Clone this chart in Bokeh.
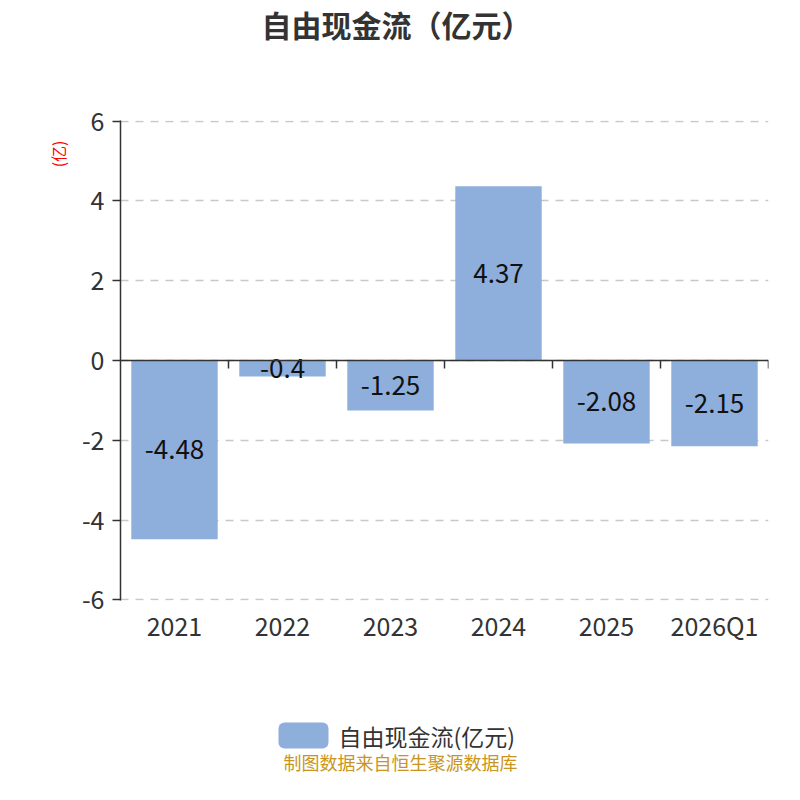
from bokeh.plotting import figure
from bokeh.layouts import column
from bokeh.models import ColumnDataSource, FixedTicker, Span, Range1d, Title
from bokeh.core.properties import value
from bokeh.embed import file_html
from bokeh.resources import INLINE

categories = ["2021", "2022", "2023", "2024", "2025", "2026Q1"]
values = [-4.48, -0.4, -1.25, 4.37, -2.08, -2.15]
value_labels = ["-4.48", "-0.4", "-1.25", "4.37", "-2.08", "-2.15"]
y_ticks = [-6, -4, -2, 0, 2, 4, 6]
y_tick_labels = ["-6", "-4", "-2", "0", "2", "4", "6"]
title_text = "自由现金流（亿元）"
series_name = "自由现金流(亿元)"
unit_text = "(亿)"
footer_text = "制图数据来自恒生聚源数据库"

FONT = "Noto Sans CJK SC"
BAR = "#8eaedb"
W = 784
FRAME_L, FRAME_R = 120, 768   # main plot frame edges (column aligns frames)


def blank(height):
    f = figure(width=W, height=height, x_range=Range1d(FRAME_L, FRAME_R),
               y_range=Range1d(height, 0),
               output_backend="svg", toolbar_location=None,
               x_axis_location=None, y_axis_location=None,
               min_border_left=FRAME_L, min_border_right=W - FRAME_R,
               min_border_top=0, min_border_bottom=0)
    f.grid.visible = False
    f.outline_line_color = None
    return f


# ---- top: title ----
top = blank(100)
top.text(x=[396], y=[23], text=[title_text], text_align="center", text_baseline="middle",
         text_font=value(FONT), text_font_size="30px", text_font_style="bold",
         text_color="#333333")

# ---- main chart ----
src = ColumnDataSource(dict(cat=categories, val=values,
                            mid=[v / 2 for v in values], lab=value_labels))

p = figure(width=W, height=584, x_range=categories, y_range=Range1d(-6.015, 6.015),
           output_backend="svg", toolbar_location=None,
           min_border_left=FRAME_L, min_border_right=W - FRAME_R,
           min_border_top=20, min_border_bottom=84)
p.outline_line_color = None

bars = p.vbar(x="cat", top="val", bottom=0, width=0.8, source=src,
              fill_color=BAR, line_color=None)
p.text(x="cat", y="mid", text="lab", source=src, text_align="center",
       text_baseline="middle", text_font=value(FONT), text_font_size="26px",
       text_color="#111111")

p.add_layout(Span(location=0, dimension="width", line_color="#333333", line_width=1.5))
n = len(categories)
p.segment(x0=list(range(1, n + 1)), y0=[0] * n, x1=list(range(1, n + 1)), y1=[-0.2] * n,
          line_color="#333333", line_width=1.5)

p.yaxis.ticker = FixedTicker(ticks=y_ticks)
p.yaxis.major_label_overrides = {t: s for t, s in zip(y_ticks, y_tick_labels)}
p.yaxis.axis_line_color = "#333333"
p.yaxis.axis_line_width = 1.5
p.yaxis.major_tick_line_color = "#333333"
p.yaxis.major_tick_line_width = 1.5
p.yaxis.major_tick_out = 8
p.yaxis.major_tick_in = 0
p.yaxis.minor_tick_line_color = None
p.yaxis.major_label_text_font = FONT
p.yaxis.major_label_text_font_size = "25px"
p.yaxis.major_label_text_color = "#333333"
p.yaxis.major_label_standoff = 8

p.xaxis.axis_line_color = None
p.xaxis.major_tick_line_color = None
p.xaxis.major_label_text_font = FONT
p.xaxis.major_label_text_font_size = "25px"
p.xaxis.major_label_text_color = "#333333"
p.xaxis.major_label_standoff = 0

p.xgrid.grid_line_color = None
p.ygrid.ticker = FixedTicker(ticks=y_ticks)
p.ygrid.grid_line_color = "#c8c8c8"
p.ygrid.grid_line_dash = "8 7"
p.ygrid.grid_line_width = 1.5

p.add_layout(Title(text=unit_text, align="right", offset=20, standoff=18, text_font=FONT,
                   text_font_size="16px", text_font_style="normal",
                   text_color="red"), "left")

# ---- bottom: legend + footer ----
bot = blank(100)
bot.quad(left=[278], right=[328], top=[38], bottom=[64], fill_color=BAR,
         line_color=None, border_radius=6)
bot.text(x=[338], y=[51], text=[series_name], text_align="left", text_baseline="middle",
         text_font=value(FONT), text_font_size="23px", text_color="#333333")
bot.text(x=[400], y=[77], text=[footer_text], text_align="center", text_baseline="middle",
         text_font=value(FONT), text_font_size="18px", text_color="#c8961e")

layout = column(top, p, bot, spacing=0)
open("out.html", "w").write(file_html(layout, INLINE))
